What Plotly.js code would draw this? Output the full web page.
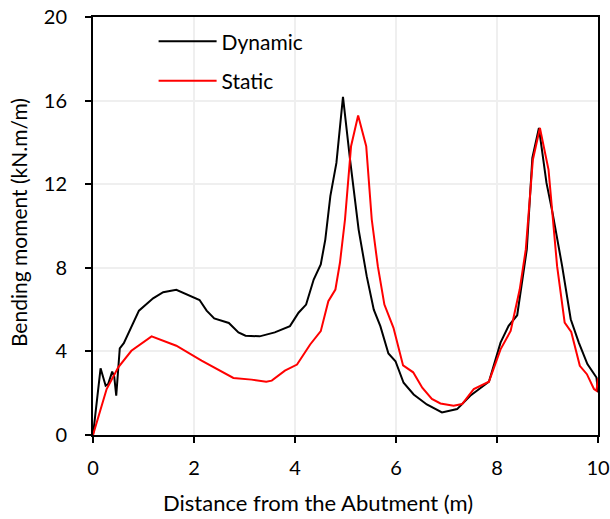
<!DOCTYPE html>
<html>
<head>
<meta charset="utf-8">
<script src="https://cdn.plot.ly/plotly-3.0.1.min.js"></script>
<style>html,body{margin:0;padding:0;background:#fff;}#chart{width:610px;height:519px;}</style>
</head>
<body>
<div id="chart"></div>
<script>
// Dynamic bending moment
const dynX = [0, 0.15, 0.25, 0.30, 0.38, 0.42, 0.46, 0.53, 0.61, 0.76, 0.91, 1.19, 1.39, 1.65, 1.88, 2.11, 2.25, 2.40, 2.69, 2.88, 3.02, 3.30, 3.60, 3.90, 4.07, 4.22, 4.37, 4.51, 4.60, 4.70, 4.82, 4.95, 5.09, 5.26, 5.42, 5.56, 5.69, 5.85, 5.99, 6.15, 6.35, 6.61, 6.91, 7.21, 7.47, 7.74, 7.84, 8.07, 8.23, 8.40, 8.59, 8.70, 8.83, 8.98, 9.10, 9.29, 9.46, 9.62, 9.79, 9.97, 10.0];
const dynY = [0, 3.19, 2.36, 2.44, 3.03, 2.80, 1.88, 4.15, 4.39, 5.15, 5.95, 6.54, 6.83, 6.95, 6.70, 6.46, 5.95, 5.58, 5.36, 4.91, 4.75, 4.72, 4.91, 5.21, 5.85, 6.24, 7.44, 8.16, 9.35, 11.43, 13.02, 16.18, 13.18, 9.83, 7.60, 6.00, 5.21, 3.90, 3.53, 2.50, 1.94, 1.46, 1.08, 1.24, 1.88, 2.39, 2.55, 4.42, 5.22, 5.73, 8.88, 13.26, 14.69, 12.06, 10.63, 8.08, 5.54, 4.42, 3.39, 2.75, 2.04];
// Static bending moment
const stX = [0, 0.27, 0.50, 0.76, 1.16, 1.65, 2.15, 2.78, 3.14, 3.43, 3.54, 3.80, 4.04, 4.30, 4.51, 4.66, 4.80, 4.89, 4.99, 5.11, 5.25, 5.41, 5.52, 5.64, 5.77, 5.95, 6.14, 6.34, 6.52, 6.71, 6.88, 7.14, 7.31, 7.54, 7.84, 8.07, 8.27, 8.45, 8.57, 8.71, 8.85, 9.02, 9.19, 9.34, 9.47, 9.64, 9.78, 9.92, 9.97, 10.0];
const stY = [0, 2.20, 3.24, 4.03, 4.72, 4.27, 3.56, 2.73, 2.65, 2.55, 2.60, 3.08, 3.37, 4.33, 4.97, 6.40, 6.96, 8.24, 10.31, 13.82, 15.29, 13.82, 10.31, 8.08, 6.24, 5.13, 3.33, 3.00, 2.26, 1.73, 1.51, 1.40, 1.48, 2.20, 2.55, 4.10, 4.98, 6.97, 8.88, 13.17, 14.69, 12.70, 8.08, 5.38, 4.93, 3.31, 2.91, 2.20, 2.12, 2.71];
const xTicks = [0, 2, 4, 6, 8, 10];
const yTicks = [0, 4, 8, 12, 16, 20];
const xTitle = 'Distance from the Abutment (m)';
const yTitle = 'Bending moment (kN.m/m)';

const font = "Lato, Open Sans, sans-serif";
const traces = [
  {x: dynX, y: dynY, type: 'scatter', mode: 'lines', name: 'Dynamic', legendgroup: 'a',
   line: {color: '#000000', width: 2}},
  {x: stX, y: stY, type: 'scatter', mode: 'lines', name: 'Static', legendgroup: 'b',
   line: {color: '#ff0000', width: 2}}
];
const layout = {
  width: 610, height: 519,
  margin: {l: 93, r: 12, t: 17, b: 84},
  paper_bgcolor: '#fff', plot_bgcolor: '#fff',
  font: {family: font, size: 20, color: '#000'},
  showlegend: true,
  legend: {x: 0.12, y: 0.99, xanchor: 'left', yanchor: 'top', bgcolor: 'rgba(0,0,0,0)', itemwidth: 58,
           font: {family: font, size: 21, color: '#000'}, traceorder: 'grouped', tracegroupgap: 9},
  xaxis: {range: [0, 10], tickvals: xTicks, ticktext: xTicks.map(String), showline: true, linecolor: '#000', linewidth: 2,
          mirror: true, ticks: 'outside', ticklen: 6, tickwidth: 2, tickcolor: '#000', ticklabelstandoff: 8,
          showgrid: true, gridcolor: '#efefef', gridwidth: 2, zeroline: false},
  yaxis: {range: [0, 20], tickvals: yTicks, ticktext: yTicks.map(String), showline: true, linecolor: '#000', linewidth: 2,
          mirror: true, ticks: 'outside', ticklen: 6, tickwidth: 2, tickcolor: '#000', ticklabelstandoff: 14,
          showgrid: true, gridcolor: '#efefef', gridwidth: 2, zeroline: false},
  annotations: [
    {text: xTitle, xref: 'paper', yref: 'paper', x: 0.4455, y: -0.162, xanchor: 'center', yanchor: 'middle',
     showarrow: false, font: {family: font, size: 22, color: '#000'}},
    {text: yTitle, xref: 'paper', yref: 'paper', x: -0.1485, y: 0.507, xanchor: 'center', yanchor: 'middle',
     textangle: -90, showarrow: false, font: {family: font, size: 21, color: '#000'}}
  ]
};
Plotly.newPlot('chart', traces, layout, {displayModeBar: false, staticPlot: true});
</script>
</body>
</html>
